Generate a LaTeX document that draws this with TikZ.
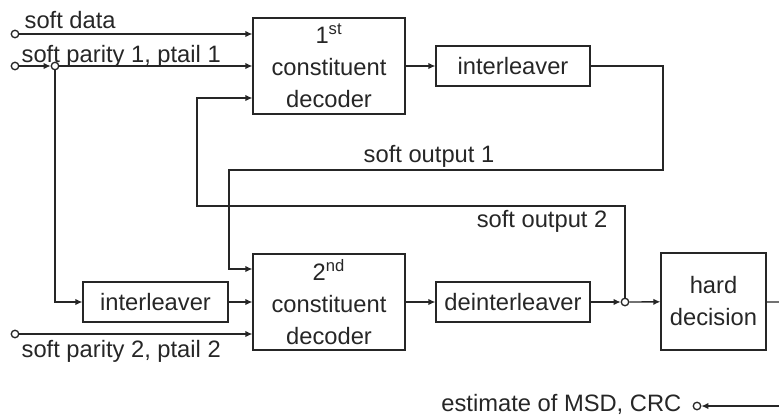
\documentclass[tikz,border=0pt]{standalone}
\usepackage{fontspec}
\setmainfont{Liberation Sans}
\usetikzlibrary{arrows.meta,calc}
\tikzset{
	blk/.style={draw, rectangle, align=center, inner sep=0pt, font=\fontsize{13.5}{18.2}\selectfont},
	port/.style={circle, draw, fill=white, inner sep=0pt, minimum size=0.15cm},
	arr/.style={-{Latex[length=1.4mm,width=1.3mm]}},
	lbl/.style={inner sep=0pt, font=\fontsize{13.5}{16}\selectfont}
}

\begin{document}
\begin{tikzpicture}[line width=0.75pt, draw=black!85, text=black!85]
	\useasboundingbox (0,0) rectangle (15.58,-8.28);
	\node[blk, minimum width=3.04cm, minimum height=1.92cm] (dec1) at (6.58,-1.32) {1\textsuperscript{st}\\constituent\\decoder};
	\node[blk, minimum width=3.04cm, minimum height=1.92cm] (dec2) at (6.58,-6.04) {2\textsuperscript{nd}\\constituent\\decoder};
	\node[blk, minimum width=3.08cm, minimum height=0.8cm] (il1) at (10.26,-1.32) {interleaver};
	\node[blk, minimum width=2.9cm, minimum height=0.8cm] (il2) at (3.11,-6.04) {interleaver};
	\node[blk, minimum width=3.08cm, minimum height=0.8cm] (deil) at (10.26,-6.04) {deinterleaver};
	\node[blk, minimum width=2.1cm, minimum height=1.94cm] (hd) at (14.27,-6.03) {hard\\decision};

	\node[port] (in1) at (0.30,-0.68) {};
	\node[port] (in2) at (0.30,-1.32) {};
	\node[port] (j1) at (1.10,-1.32) {};
	\node[port] (in3) at (0.30,-6.68) {};
	\node[port] (j2) at (12.50,-6.04) {};
	\node[port] (out) at (13.94,-8.12) {};
	\coordinate (s1r) at (13.26,-3.40);
	\coordinate (s1l) at (4.58,-3.40);
	\coordinate (s2l) at (3.94,-4.12);
	\coordinate (e1) at (15.58,-6.04);
	\coordinate (e2) at (15.58,-8.12);

	\node[lbl, anchor=base west] (tdata) at (0.48,-0.56) {soft data};
	\node[lbl, anchor=base west] (tpar1) at (0.42,-1.24) {soft parity 1, ptail 1};
	\node[lbl, anchor=base west] (tpar2) at (0.42,-7.14) {soft parity 2, ptail 2};
	\node[lbl, anchor=base] (tso1) at (8.58,-3.24) {soft output 1};
	\node[lbl, anchor=base east] (tso2) at (12.16,-4.54) {soft output 2};
	\node[lbl, anchor=base east] (test) at (13.64,-8.22) {estimate of MSD, CRC};

	\draw[arr] (in1) -- (in1 -| dec1.west);
	\draw[arr] (in2) -- (j1);
	\draw[arr] (j1) -- (dec1);
	\draw[arr] (j1) |- (il2);
	\draw[arr] (il2) -- (dec2);
	\draw[arr] (in3) -- (in3 -| dec2.west);
	\draw[arr] (dec1) -- (il1);
	\draw[arr] (il1) -| (s1r) -- (s1l) |- ([yshift=0.66cm]dec2.west);
	\draw[arr] (j2) |- (s2l) |- ([yshift=-0.64cm]dec1.west);
	\draw[arr] (dec2) -- (deil);
	\draw[arr] (deil) -- (j2);
	\draw[arr] (j2) -- (hd);
	\draw (hd) -- (e1);
	\draw[arr] (e2) -- (out);
\end{tikzpicture}
\end{document}
